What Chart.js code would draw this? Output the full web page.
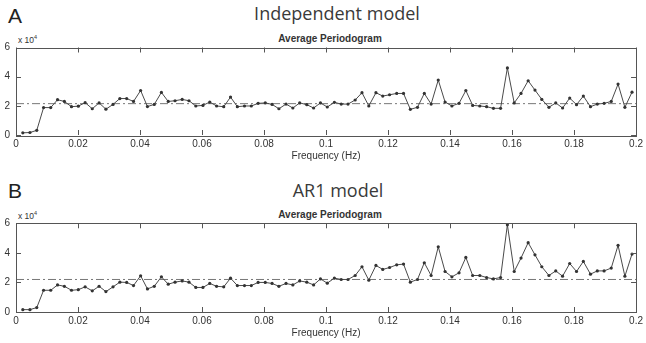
<!DOCTYPE html>
<html>
<head>
<meta charset="utf-8">
<script src="https://cdn.jsdelivr.net/npm/chart.js@4.4.1/dist/chart.umd.min.js"></script>
<style>
  body { margin: 0; background: #fff; }
  #wrap { position: relative; width: 646px; height: 343px; overflow: hidden; font-family: "Liberation Sans", Arial, sans-serif; }
  canvas { position: absolute; left: 0; }
  .letter { position: absolute; font-size: 21px; line-height: 21px; color: #222; }
  .title { position: absolute; font-family: "Open Sans", sans-serif; font-size: 18px; line-height: 18px; color: #3a3a3a; transform: translateX(-50%); white-space: nowrap; }
  .sub { position: absolute; font-weight: bold; font-size: 10px; line-height: 10px; color: #333; transform: translateX(-50%); white-space: nowrap; }
  .exp { position: absolute; font-size: 8.5px; line-height: 9px; color: #333; white-space: nowrap; }
  .exp span { font-size: 5.5px; position: relative; top: -4px; }
</style>
</head>
<body>
<div id="wrap">
  <div class="letter" style="left:8px; top:5px;">A</div>
  <div class="title" style="left:337px; top:4px;">Independent model</div>
  <div class="sub" style="left:330px; top:34px;">Average Periodogram</div>
  <div class="exp" style="left:18px; top:36px;">x 10<span>4</span></div>
  <canvas id="chartA" width="646" height="135" style="top:30px;"></canvas>

  <div class="letter" style="left:8px; top:180px;">B</div>
  <div class="title" style="left:338px; top:181px;">AR1 model</div>
  <div class="sub" style="left:330px; top:210px;">Average Periodogram</div>
  <div class="exp" style="left:18px; top:212px;">x 10<span>4</span></div>
  <canvas id="chartB" width="646" height="137" style="top:205px;"></canvas>
</div>
<script>
// frequency bins (Hz)
const freqs = [
  0.0022, 0.0045, 0.0067, 0.0089, 0.0112, 0.0134, 0.0156, 0.0179, 0.0201, 0.0223,
  0.0246, 0.0268, 0.0290, 0.0313, 0.0335, 0.0357, 0.0379, 0.0402, 0.0424, 0.0446,
  0.0469, 0.0491, 0.0513, 0.0536, 0.0558, 0.0580, 0.0603, 0.0625, 0.0647, 0.0670,
  0.0692, 0.0714, 0.0737, 0.0759, 0.0781, 0.0804, 0.0826, 0.0848, 0.0871, 0.0893,
  0.0915, 0.0938, 0.0960, 0.0982, 0.1004, 0.1027, 0.1049, 0.1071, 0.1094, 0.1116,
  0.1138, 0.1161, 0.1183, 0.1205, 0.1228, 0.1250, 0.1272, 0.1295, 0.1317, 0.1339,
  0.1362, 0.1384, 0.1406, 0.1429, 0.1451, 0.1473, 0.1496, 0.1518, 0.1540, 0.1563,
  0.1585, 0.1607, 0.1629, 0.1652, 0.1674, 0.1696, 0.1719, 0.1741, 0.1763, 0.1786,
  0.1808, 0.1830, 0.1853, 0.1875, 0.1897, 0.1920, 0.1942, 0.1964, 0.1987
];

// Independent model periodogram (x 10^4)
const independentValues = [
  0.15, 0.17, 0.32, 1.88, 1.88, 2.42, 2.30, 1.94, 1.98, 2.22,
  1.80, 2.20, 1.77, 2.10, 2.50, 2.50, 2.30, 3.05, 1.95, 2.10,
  2.92, 2.30, 2.35, 2.44, 2.35, 1.99, 2.03, 2.26, 1.99, 1.94,
  2.60, 1.94, 1.99, 1.99, 2.17, 2.20, 2.10, 1.80, 2.12, 1.85,
  2.20, 2.08, 1.85, 2.20, 1.92, 2.24, 2.12, 2.12, 2.40, 2.90,
  1.99, 2.90, 2.67, 2.76, 2.85, 2.85, 1.76, 1.90, 2.85, 2.12,
  3.77, 2.26, 1.99, 2.17, 3.05, 2.03, 1.99, 1.94, 1.83, 1.83,
  4.60, 2.20, 2.85, 3.72, 3.08, 2.44, 1.90, 2.20, 1.85, 2.53,
  2.08, 2.67, 1.94, 2.12, 2.17, 2.30, 3.49, 1.90, 2.94
];

// AR1 model periodogram (x 10^4)
const ar1Values = [
  0.16, 0.16, 0.30, 1.47, 1.47, 1.83, 1.74, 1.47, 1.51, 1.70,
  1.43, 1.74, 1.38, 1.70, 2.02, 2.00, 1.79, 2.45, 1.56, 1.74,
  2.38, 1.88, 2.02, 2.10, 2.02, 1.66, 1.66, 1.93, 1.74, 1.70,
  2.29, 1.79, 1.79, 1.79, 2.00, 2.00, 1.93, 1.74, 1.93, 1.83,
  2.10, 2.02, 1.83, 2.24, 1.95, 2.29, 2.20, 2.20, 2.47, 3.06,
  2.15, 3.15, 2.88, 3.01, 3.19, 3.24, 2.02, 2.20, 3.33, 2.47,
  4.41, 2.74, 2.38, 2.65, 3.69, 2.47, 2.47, 2.33, 2.24, 2.33,
  5.90, 2.74, 3.65, 4.69, 3.87, 3.06, 2.47, 2.78, 2.42, 3.28,
  2.74, 3.42, 2.56, 2.78, 2.78, 2.97, 4.51, 2.42, 3.92
];

// dash-dot reference levels
const refLevelA = 2.15;
const refLevelB = 2.2;

const xTicks = [0, 0.02, 0.04, 0.06, 0.08, 0.1, 0.12, 0.14, 0.16, 0.18, 0.2];
const yTicks = [0, 2, 4, 6];

// matlab style box with inward ticks
const boxPlugin = {
  id: 'box',
  afterDraw(chart) {
    const { ctx, chartArea: a, scales } = chart;
    const len = 5;
    ctx.save();
    ctx.strokeStyle = '#555';
    ctx.lineWidth = 1;
    ctx.strokeRect(Math.round(a.left) + 0.5, Math.round(a.top) + 0.5,
      Math.round(a.right - a.left), Math.round(a.bottom - a.top));
    ctx.beginPath();
    xTicks.forEach(v => {
      const x = Math.round(scales.x.getPixelForValue(v)) + 0.5;
      ctx.moveTo(x, a.bottom); ctx.lineTo(x, a.bottom - len);
      ctx.moveTo(x, a.top); ctx.lineTo(x, a.top + len);
    });
    yTicks.forEach(v => {
      const y = Math.round(scales.y.getPixelForValue(v)) + 0.5;
      ctx.moveTo(a.left, y); ctx.lineTo(a.left + len, y);
      ctx.moveTo(a.right, y); ctx.lineTo(a.right - len, y);
    });
    ctx.stroke();
    ctx.restore();
  }
};

function makeChart(id, values, refLevel, topPad) {
  const ctx = document.getElementById(id).getContext('2d');
  return new Chart(ctx, {
    type: 'line',
    data: {
      datasets: [
        {
          data: freqs.map((f, i) => ({ x: f, y: values[i] })),
          borderColor: '#4a4a4a',
          borderWidth: 1,
          pointRadius: 1.6,
          pointBackgroundColor: '#333',
          pointBorderWidth: 0,
          tension: 0
        },
        {
          data: [{ x: 0, y: refLevel }, { x: 0.2, y: refLevel }],
          borderColor: '#777',
          borderWidth: 1,
          borderDash: [8, 3, 2, 3],
          pointRadius: 0
        }
      ]
    },
    options: {
      responsive: false,
      animation: false,
      layout: { padding: { left: 0, right: 7, top: topPad, bottom: 0 } },
      plugins: { legend: { display: false }, tooltip: { enabled: false } },
      scales: {
        x: {
          type: 'linear',
          min: 0,
          max: 0.2,
          afterBuildTicks: s => { s.ticks = xTicks.map(v => ({ value: v })); },
          afterFit: s => { s.height = 30; },
          grid: { display: false, drawTicks: false },
          border: { display: false },
          ticks: {
            color: '#333',
            font: { family: 'Liberation Sans', size: 10 },
            padding: 3,
            maxRotation: 0,
            autoSkip: false,
            callback: v => String(Number(v.toFixed(2)))
          },
          title: {
            display: true,
            text: 'Frequency (Hz)',
            color: '#333',
            font: { family: 'Liberation Sans', size: 10 },
            padding: { top: 0, bottom: 3 }
          }
        },
        y: {
          min: 0,
          max: 6,
          afterBuildTicks: s => { s.ticks = yTicks.map(v => ({ value: v })); },
          afterFit: s => { s.width = 16; },
          grid: { display: false, drawTicks: false },
          border: { display: false },
          ticks: {
            color: '#333',
            font: { family: 'Liberation Sans', size: 10 },
            padding: 6
          }
        }
      }
    },
    plugins: [boxPlugin]
  });
}

makeChart('chartA', independentValues, refLevelA, 17.5);
makeChart('chartB', ar1Values, refLevelB, 18.3);
</script>
</body>
</html>
